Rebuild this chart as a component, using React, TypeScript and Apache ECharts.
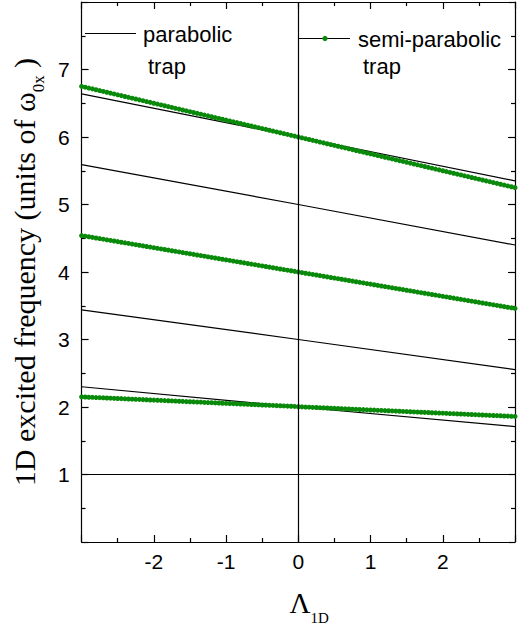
import React, { useEffect, useRef } from "react";
import * as echarts from "echarts";

// Λ_1D grid of the semi-parabolic trap curves (one marker every 0.05)
const lambdaGrid = [
  -3, -2.95, -2.9, -2.85, -2.8, -2.75, -2.7, -2.65, -2.6, -2.55,
  -2.5, -2.45, -2.4, -2.35, -2.3, -2.25, -2.2, -2.15, -2.1, -2.05,
  -2, -1.95, -1.9, -1.85, -1.8, -1.75, -1.7, -1.65, -1.6, -1.55,
  -1.5, -1.45, -1.4, -1.35, -1.3, -1.25, -1.2, -1.15, -1.1, -1.05,
  -1, -0.95, -0.9, -0.85, -0.8, -0.75, -0.7, -0.65, -0.6, -0.55,
  -0.5, -0.45, -0.4, -0.35, -0.3, -0.25, -0.2, -0.15, -0.1, -0.05,
  0, 0.05, 0.1, 0.15, 0.2, 0.25, 0.3, 0.35, 0.4, 0.45,
  0.5, 0.55, 0.6, 0.65, 0.7, 0.75, 0.8, 0.85, 0.9, 0.95,
  1, 1.05, 1.1, 1.15, 1.2, 1.25, 1.3, 1.35, 1.4, 1.45,
  1.5, 1.55, 1.6, 1.65, 1.7, 1.75, 1.8, 1.85, 1.9, 1.95,
  2, 2.05, 2.1, 2.15, 2.2, 2.25, 2.3, 2.35, 2.4, 2.45,
  2.5, 2.55, 2.6, 2.65, 2.7, 2.75, 2.8, 2.85, 2.9, 2.95,
  3,
];

const semiLevel2 = [
  2.15, 2.148, 2.145, 2.143, 2.14, 2.138, 2.136, 2.133, 2.131, 2.128,
  2.126, 2.124, 2.121, 2.119, 2.116, 2.114, 2.112, 2.109, 2.107, 2.104,
  2.102, 2.1, 2.097, 2.095, 2.092, 2.09, 2.088, 2.085, 2.083, 2.08,
  2.078, 2.076, 2.073, 2.071, 2.068, 2.066, 2.064, 2.061, 2.059, 2.056,
  2.054, 2.052, 2.049, 2.047, 2.044, 2.042, 2.04, 2.037, 2.035, 2.032,
  2.03, 2.028, 2.025, 2.023, 2.02, 2.018, 2.016, 2.013, 2.011, 2.008,
  2.004, 2.002, 1.999, 1.997, 1.994, 1.992, 1.99, 1.987, 1.985, 1.982,
  1.98, 1.978, 1.975, 1.973, 1.97, 1.968, 1.966, 1.963, 1.961, 1.958,
  1.956, 1.954, 1.951, 1.949, 1.946, 1.944, 1.942, 1.939, 1.937, 1.934,
  1.932, 1.93, 1.927, 1.925, 1.922, 1.92, 1.918, 1.915, 1.913, 1.91,
  1.908, 1.906, 1.903, 1.901, 1.898, 1.896, 1.894, 1.891, 1.889, 1.886,
  1.884, 1.882, 1.879, 1.877, 1.874, 1.872, 1.87, 1.867, 1.865, 1.862,
  1.86,
];

const semiLevel4 = [
  4.54, 4.531, 4.522, 4.513, 4.504, 4.495, 4.486, 4.477, 4.468, 4.459,
  4.45, 4.441, 4.432, 4.423, 4.414, 4.405, 4.396, 4.387, 4.378, 4.369,
  4.36, 4.351, 4.342, 4.333, 4.324, 4.315, 4.306, 4.297, 4.288, 4.279,
  4.27, 4.261, 4.252, 4.243, 4.234, 4.225, 4.216, 4.207, 4.198, 4.189,
  4.18, 4.171, 4.162, 4.153, 4.144, 4.135, 4.126, 4.117, 4.108, 4.099,
  4.09, 4.081, 4.072, 4.063, 4.054, 4.045, 4.036, 4.027, 4.018, 4.009,
  4.0, 3.991, 3.982, 3.973, 3.964, 3.955, 3.946, 3.937, 3.928, 3.919,
  3.91, 3.901, 3.892, 3.883, 3.874, 3.865, 3.856, 3.847, 3.838, 3.829,
  3.82, 3.811, 3.802, 3.793, 3.784, 3.775, 3.766, 3.757, 3.748, 3.739,
  3.73, 3.721, 3.712, 3.703, 3.694, 3.685, 3.676, 3.667, 3.658, 3.649,
  3.64, 3.631, 3.622, 3.613, 3.604, 3.595, 3.586, 3.577, 3.568, 3.559,
  3.55, 3.541, 3.532, 3.523, 3.514, 3.505, 3.496, 3.487, 3.478, 3.469,
  3.46,
];

const semiLevel6 = [
  6.75, 6.738, 6.725, 6.713, 6.7, 6.688, 6.675, 6.663, 6.65, 6.638,
  6.625, 6.613, 6.6, 6.588, 6.575, 6.563, 6.55, 6.538, 6.525, 6.513,
  6.5, 6.488, 6.475, 6.463, 6.45, 6.438, 6.425, 6.413, 6.4, 6.388,
  6.375, 6.363, 6.35, 6.338, 6.325, 6.313, 6.3, 6.288, 6.275, 6.263,
  6.25, 6.238, 6.225, 6.213, 6.2, 6.188, 6.175, 6.163, 6.15, 6.138,
  6.125, 6.113, 6.1, 6.088, 6.075, 6.063, 6.05, 6.038, 6.025, 6.013,
  6.0, 5.988, 5.975, 5.963, 5.95, 5.938, 5.925, 5.913, 5.9, 5.888,
  5.875, 5.863, 5.85, 5.838, 5.825, 5.813, 5.8, 5.788, 5.775, 5.763,
  5.75, 5.738, 5.725, 5.713, 5.7, 5.688, 5.675, 5.663, 5.65, 5.638,
  5.625, 5.613, 5.6, 5.588, 5.575, 5.563, 5.55, 5.538, 5.525, 5.513,
  5.5, 5.488, 5.475, 5.463, 5.45, 5.438, 5.425, 5.413, 5.4, 5.388,
  5.375, 5.363, 5.35, 5.338, 5.325, 5.313, 5.3, 5.288, 5.275, 5.263,
  5.25,
];

// parabolic trap levels (straight lines)
const parabolicX = [-3, 0, 3];
const parabolicLevel1 = [1, 1, 1];
const parabolicLevel2 = [2.3, 2.0, 1.71];
const parabolicLevel3 = [3.44, 3.0, 2.555];
const parabolicLevel4 = [4.54, 4.0, 3.46];
const parabolicLevel5 = [5.59, 5.0, 4.4];
const parabolicLevel6 = [6.64, 6.0, 5.35];

const xTickLabels = [-2, -1, 0, 1, 2];
const yTickLabels = [1, 2, 3, 4, 5, 6, 7];

const SANS = "'Liberation Sans', Arial, Helvetica, sans-serif";
const SERIF = "'Liberation Serif', 'Times New Roman', serif";
const GREEN = "#0a8a0a";

export default function App() {
  const ref = useRef<HTMLDivElement>(null);

  useEffect(() => {
    document.body.style.margin = "0";
    if (!ref.current) return;
    const chart = echarts.init(ref.current, undefined, { renderer: "svg" });

    const parabolic = [
      parabolicLevel1,
      parabolicLevel2,
      parabolicLevel3,
      parabolicLevel4,
      parabolicLevel5,
      parabolicLevel6,
    ].map((lvl, k) => ({
      name: "parabolic trap",
      type: "line",
      xAxisIndex: 0,
      yAxisIndex: 0,
      symbol: "none",
      lineStyle: { color: "#000", width: 1.2 },
      data: parabolicX.map((x, i) => [x, lvl[i]]),
      z: 2,
      ...(k === 0
        ? {
            markLine: {
              silent: true,
              symbol: ["none", "none"],
              label: { show: false },
              lineStyle: { color: "#000", type: "solid", width: 1.2 },
              data: [{ xAxis: 0 }],
            },
          }
        : {}),
    }));

    const semi = [semiLevel2, semiLevel4, semiLevel6].map((lvl) => ({
      name: "semi-parabolic trap",
      type: "line",
      xAxisIndex: 0,
      yAxisIndex: 0,
      symbol: "circle",
      symbolSize: 5,
      showAllSymbol: true,
      itemStyle: { color: GREEN, borderWidth: 0 },
      lineStyle: { color: "#000", width: 1.2 },
      data: lambdaGrid.map((x, i) => [x, lvl[i]]),
      z: 3,
    }));

    const tickCommon = {
      axisLine: { show: true, onZero: false, lineStyle: { color: "#000", width: 1.2 } },
      axisTick: { show: true, inside: true, length: 7, lineStyle: { color: "#000", width: 1.2 } },
      minorTick: { show: true, splitNumber: 2, length: 4, lineStyle: { color: "#000", width: 1.2 } },
      splitLine: { show: false },
      minorSplitLine: { show: false },
    };

    chart.setOption({
      animation: false,
      backgroundColor: "#fff",
      grid: { left: 76, right: 16, top: 2, bottom: 90, containLabel: false },
      xAxis: [
        {
          type: "value",
          position: "bottom",
          min: -3,
          max: 3,
          interval: 1,
          ...tickCommon,
          axisLabel: {
            show: true,
            margin: 9,
            fontFamily: SANS,
            fontSize: 21,
            color: "#000",
            formatter: (v: number) => (xTickLabels.includes(v) ? String(v) : ""),
          },
          name: "{a|Λ}{s|1D}",
          nameLocation: "middle",
          nameGap: 46,
          nameTextStyle: {
            padding: [0, 0, 0, 22],
            rich: {
              a: { fontFamily: SERIF, fontSize: 29, color: "#000", lineHeight: 30 },
              s: {
                fontFamily: SERIF,
                fontSize: 15,
                color: "#000",
                verticalAlign: "top",
                lineHeight: 15,
                padding: [22, 0, 0, 0],
              },
            },
          },
        },
        {
          type: "value",
          position: "top",
          min: -3,
          max: 3,
          interval: 1,
          ...tickCommon,
          axisLabel: { show: false },
        },
      ],
      yAxis: [
        {
          type: "value",
          position: "left",
          min: 0,
          max: 8,
          interval: 1,
          ...tickCommon,
          axisLabel: {
            show: true,
            margin: 12,
            fontFamily: SANS,
            fontSize: 21,
            color: "#000",
            formatter: (v: number) => (yTickLabels.includes(v) ? String(v) : ""),
          },
          name: "{t|1D excited frequency (units of ω}{s|0x}{t| )}",
          nameLocation: "middle",
          nameRotate: 90,
          nameGap: 38,
          nameTextStyle: {
            rich: {
              t: { fontFamily: SERIF, fontSize: 30, color: "#000", lineHeight: 32 },
              s: {
                fontFamily: SERIF,
                fontSize: 17,
                color: "#000",
                verticalAlign: "top",
                lineHeight: 17,
                padding: [22, 0, 0, 0],
              },
            },
          },
        },
        {
          type: "value",
          position: "right",
          min: 0,
          max: 8,
          interval: 1,
          ...tickCommon,
          axisLabel: { show: false },
        },
      ],
      graphic: [
        { type: "line", shape: { x1: 85, y1: 33.5, x2: 136, y2: 33.5 }, style: { stroke: "#000", lineWidth: 1.2 }, silent: true },
        { type: "text", x: 143, y: 34, style: { text: "parabolic", fontFamily: SANS, fontSize: 22, fill: "#000", align: "left", verticalAlign: "middle" } },
        { type: "text", x: 148, y: 66, style: { text: "trap", fontFamily: SANS, fontSize: 22, fill: "#000", align: "left", verticalAlign: "middle" } },
        { type: "line", shape: { x1: 299, y1: 38.5, x2: 350, y2: 38.5 }, style: { stroke: "#000", lineWidth: 1.2 }, silent: true },
        { type: "circle", shape: { cx: 325, cy: 38.5, r: 2.6 }, style: { fill: GREEN }, silent: true },
        { type: "text", x: 358, y: 39, style: { text: "semi-parabolic", fontFamily: SANS, fontSize: 22, fill: "#000", align: "left", verticalAlign: "middle" } },
        { type: "text", x: 363, y: 66, style: { text: "trap", fontFamily: SANS, fontSize: 22, fill: "#000", align: "left", verticalAlign: "middle" } },
      ],
      series: [...parabolic, ...semi],
    });

    return () => chart.dispose();
  }, []);

  return <div ref={ref} style={{ width: 531, height: 632 }} />;
}
